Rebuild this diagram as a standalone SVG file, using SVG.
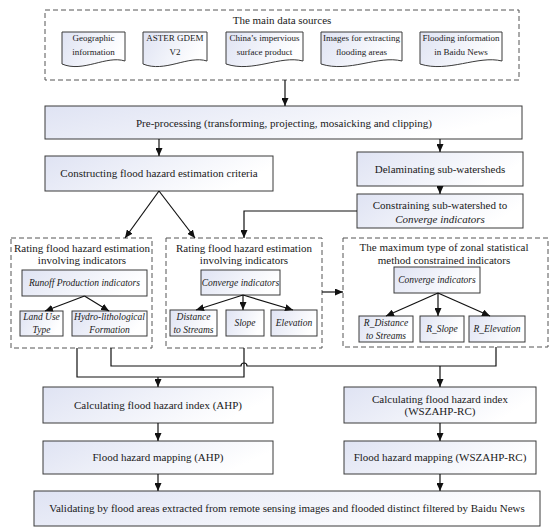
<svg xmlns="http://www.w3.org/2000/svg" width="550" height="532" viewBox="0 0 550 532" font-family="Liberation Serif, Times New Roman, serif">
<defs>
<linearGradient id="g" x1="0" y1="0" x2="1" y2="0.3">
<stop offset="0" stop-color="#dfe3f3"/>
<stop offset="1" stop-color="#ffffff"/>
</linearGradient>
<marker id="ah" markerUnits="userSpaceOnUse" markerWidth="8" markerHeight="7" refX="8" refY="3.5" orient="auto">
<path d="M0,0 L8,3.5 L0,7 z" fill="#111"/>
</marker>
</defs>
<style>
.box{fill:url(#g);stroke:#3a3a3a;stroke-width:1}
.dash{fill:none;stroke:#555;stroke-width:1;stroke-dasharray:5,3}
text{font-family:'Liberation Serif','Times New Roman',serif;fill:#1a1a1a;text-anchor:middle}
.t{font-size:11px}
.s{font-size:9px}
.i{font-size:9.5px;font-style:italic}
.c{fill:none;stroke:#111;stroke-width:1.2}
.a{fill:none;stroke:#111;stroke-width:1.2;marker-end:url(#ah)}
</style>

<g id="sources">
<rect class="dash" x="45" y="10" width="474" height="70"/>
<text class="t" x="282" y="24">The main data sources</text>
</g>
<g id="doc-geo">
<path class="box" d="M62,32 H125 V61 C106,55 83,73 62,64 Z"/>
<text class="s" x="93.5" y="41">Geographic</text>
<text class="s" x="93.5" y="55">information</text>
</g>
<g id="doc-aster">
<path class="box" d="M143,32 H207 V61 C188,55 165,73 143,64 Z"/>
<text class="s" x="175" y="41">ASTER GDEM</text>
<text class="s" x="175" y="55">V2</text>
</g>
<g id="doc-china">
<path class="box" d="M226,32 H303 V61 C280,55 253,73 226,64 Z"/>
<text class="s" x="264.5" y="41">China’s impervious</text>
<text class="s" x="264.5" y="55">surface product</text>
</g>
<g id="doc-images">
<path class="box" d="M321,32 H402 V61 C378,55 349,73 321,64 Z"/>
<text class="s" x="361.5" y="41">Images for extracting</text>
<text class="s" x="361.5" y="55">flooding areas</text>
</g>
<g id="doc-baidu">
<path class="box" d="M420,32 H502 V61 C478,55 448,73 420,64 Z"/>
<text class="s" x="461" y="41">Flooding information</text>
<text class="s" x="461" y="55">in Baidu News</text>
</g>

<g id="preprocessing">
<rect class="box" x="45" y="106" width="477" height="33"/>
<text class="t" x="284" y="127">Pre-processing (transforming, projecting, mosaicking and clipping)</text>
</g>
<g id="constructing">
<rect class="box" x="45" y="156" width="228" height="35"/>
<text class="t" x="159" y="177">Constructing flood hazard estimation criteria</text>
</g>
<g id="delaminating">
<rect class="box" x="357" y="152" width="166" height="34"/>
<text class="t" x="440" y="173">Delaminating sub-watersheds</text>
</g>
<g id="constraining">
<rect class="box" x="357" y="194" width="166" height="34"/>
<text class="t" x="440" y="209">Constraining sub-watershed to</text>
<text class="t" x="440" y="223" font-style="italic">Converge indicators</text>
</g>

<g id="rating-runoff">
<rect class="dash" x="11" y="238" width="141" height="110"/>
<text class="t" x="82" y="252">Rating flood hazard estimation</text>
<text class="t" x="82" y="264">involving indicators</text>
</g>
<g id="runoff">
<rect class="box" x="22" y="270" width="125" height="26"/>
<text class="i" x="84.5" y="286">Runoff  Production indicators</text>
</g>
<g id="landuse">
<rect class="box" x="20" y="311" width="43" height="25"/>
<text class="i" x="41.5" y="320">Land Use</text>
<text class="i" x="41.5" y="333">Type</text>
</g>
<g id="hydro">
<rect class="box" x="72" y="311" width="75" height="25"/>
<text class="i" x="109.5" y="320">Hydro-lithological</text>
<text class="i" x="109.5" y="333">Formation</text>
</g>

<g id="rating-converge">
<rect class="dash" x="166" y="238" width="156" height="110"/>
<text class="t" x="244" y="252">Rating flood hazard estimation</text>
<text class="t" x="244" y="264">involving indicators</text>
</g>
<g id="converge1">
<rect class="box" x="201" y="270" width="79" height="25"/>
<text class="i" x="240.5" y="286">Converge indicators</text>
</g>
<g id="distance">
<rect class="box" x="170" y="310" width="47" height="26"/>
<text class="i" x="193.5" y="320">Distance</text>
<text class="i" x="193.5" y="333">to Streams</text>
</g>
<g id="slope">
<rect class="box" x="226" y="310" width="38" height="26"/>
<text class="i" x="245" y="326">Slope</text>
</g>
<g id="elevation">
<rect class="box" x="271" y="310" width="46" height="26"/>
<text class="i" x="294" y="326">Elevation</text>
</g>

<g id="zonal">
<rect class="dash" x="343" y="238" width="205" height="109"/>
<text class="t" x="444" y="251">The maximum type of zonal statistical</text>
<text class="t" x="444" y="264">method constrained indicators</text>
</g>
<g id="converge2">
<rect class="box" x="394" y="267" width="86" height="26"/>
<text class="i" x="437" y="283">Converge indicators</text>
</g>
<g id="r-distance">
<rect class="box" x="359" y="316" width="54" height="26"/>
<text class="i" x="386" y="326">R_Distance</text>
<text class="i" x="386" y="339">to Streams</text>
</g>
<g id="r-slope">
<rect class="box" x="420" y="316" width="44" height="26"/>
<text class="i" x="442" y="332">R_Slope</text>
</g>
<g id="r-elevation">
<rect class="box" x="469" y="316" width="56" height="26"/>
<text class="i" x="497" y="332">R_Elevation</text>
</g>

<g id="calc-ahp">
<rect class="box" x="43" y="387" width="230" height="36"/>
<text class="t" x="158" y="409">Calculating flood hazard index (AHP)</text>
</g>
<g id="calc-ws">
<rect class="box" x="344" y="387" width="192" height="36"/>
<text class="t" x="440" y="403">Calculating flood hazard index</text>
<text class="t" x="440" y="415">(WSZAHP-RC)</text>
</g>
<g id="map-ahp">
<rect class="box" x="43" y="441" width="230" height="33"/>
<text class="t" x="158" y="461">Flood hazard mapping (AHP)</text>
</g>
<g id="map-ws">
<rect class="box" x="344" y="441" width="192" height="33"/>
<text class="t" x="440" y="461">Flood hazard mapping (WSZAHP-RC)</text>
</g>
<g id="validating">
<rect class="box" x="34" y="491" width="506" height="35"/>
<text class="t" x="287" y="512">Validating by flood areas extracted from remote sensing images and flooded distinct filtered by Baidu News</text>
</g>

<g id="connectors">
<path class="a" d="M285,80 V106"/>
<path class="a" d="M159,139 V156"/>
<path class="a" d="M440,139 V152"/>
<path class="a" d="M440,186 V194"/>
<path class="a" d="M159,191 L125,238"/>
<path class="a" d="M159,191 L195,238"/>
<path class="a" d="M357,211 H244 V238"/>
<path class="a" d="M84.5,296 L45,311"/>
<path class="a" d="M84.5,296 L109,311"/>
<path class="a" d="M243,295 L196,310"/>
<path class="a" d="M243,295 V310"/>
<path class="a" d="M243,295 L293,310"/>
<path class="a" d="M438,293 L386,316"/>
<path class="a" d="M438,293 V316"/>
<path class="a" d="M438,293 L490,316"/>
<path class="a" d="M322,292 H343"/>
<path class="c" d="M77,348 V377 H244 V348"/>
<path class="c" d="M111,348 V366 H241 A3,3 0 0 1 247,366 H496 V347"/>
<path class="a" d="M158,377 V387"/>
<path class="a" d="M440,366 V387"/>
<path class="a" d="M158,423 V441"/>
<path class="a" d="M440,423 V441"/>
<path class="a" d="M158,474 V491"/>
<path class="a" d="M440,474 V491"/>
</g>
</svg>
